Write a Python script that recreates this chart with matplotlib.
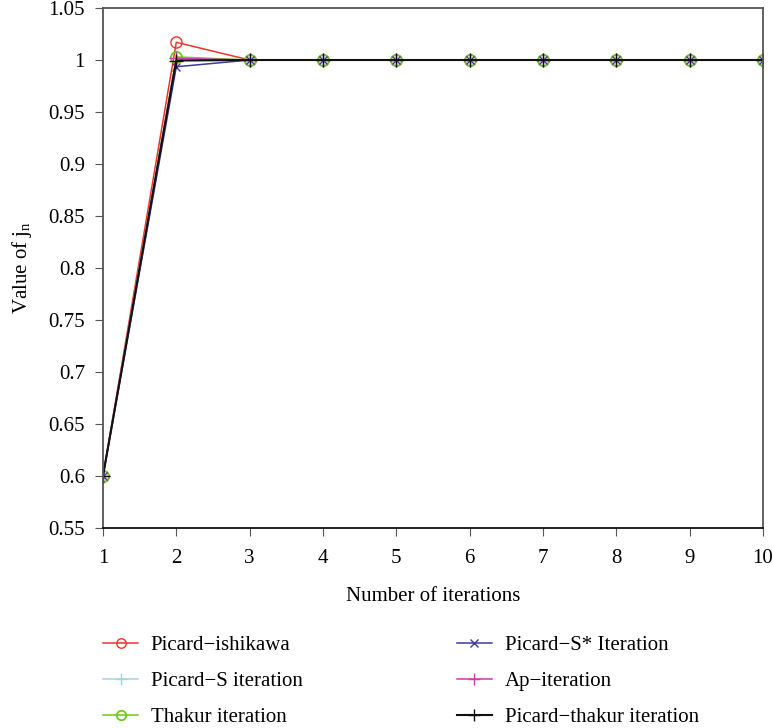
import numpy as np
import matplotlib
matplotlib.use("Agg")
import matplotlib.pyplot as plt

plt.rcParams['font.family'] = ['Liberation Serif', 'DejaVu Serif']
plt.rcParams['mathtext.fontset'] = 'custom'
plt.rcParams['mathtext.rm'] = 'Liberation Serif'

# iterations
n = [1, 2, 3, 4, 5, 6, 7, 8, 9, 10]

# values of j_n for each scheme
picard_ishikawa = [0.6, 1.017, 1.0, 1.0, 1.0, 1.0, 1.0, 1.0, 1.0, 1.0]
picard_s = [0.6, 1.002, 1.0, 1.0, 1.0, 1.0, 1.0, 1.0, 1.0, 1.0]
thakur = [0.6, 1.003, 1.0, 1.0, 1.0, 1.0, 1.0, 1.0, 1.0, 1.0]
picard_s_star = [0.6, 0.9935, 1.0, 1.0, 1.0, 1.0, 1.0, 1.0, 1.0, 1.0]
ap_iter = [0.6, 1.0015, 1.0, 1.0, 1.0, 1.0, 1.0, 1.0, 1.0, 1.0]
picard_thakur = [0.6, 0.9995, 1.0, 1.0, 1.0, 1.0, 1.0, 1.0, 1.0, 1.0]

fig = plt.figure(figsize=(7.73, 7.28), dpi=100)
ax = fig.add_axes([0.1332, 0.2747, 0.8538, 0.7143])

ax.plot(n, picard_ishikawa, color='#e8362d', marker='o', mfc='none', ms=8, lw=1.1, label='Picard\u2212ishikawa')
ax.plot(n, picard_s, color='#9ad8e0', marker='+', ms=10, lw=1.1, label='Picard\u2212S iteration')
ax.plot(n, thakur, color='#6cc81e', marker='o', mfc='none', ms=8, mew=1.3, lw=1.1, label='Thakur iteration')
ax.plot(n, picard_s_star, color='#3c3c9a', marker='x', ms=6, lw=1.1, label='Picard\u2212S* Iteration')
ax.plot(n, ap_iter, color='#cc3cb4', marker='+', ms=10, lw=1.1, label='Ap\u2212iteration')
ax.plot(n, picard_thakur, color='#111111', marker='+', ms=10, lw=1.5, label='Picard\u2212thakur iteration')

ax.set_xlim(1, 10)
ax.set_ylim(0.55, 1.05)
ax.set_xticks(n)
ax.set_yticks(np.arange(0.55, 1.051, 0.05))
ax.set_yticklabels(['0.55', '0.6', '0.65', '0.7', '0.75', '0.8', '0.85', '0.9', '0.95', '1', '1.05'])
ax.tick_params(labelsize=15, direction='out', length=6, color='#555555')
ax.tick_params(axis='x', pad=9)
ax.tick_params(axis='y', pad=7)
for s in ax.spines.values():
    s.set_color('#555555')
    s.set_linewidth(1.3)
ax.spines['bottom'].set_color('#111111')

ax.set_xlabel('Number of iterations', fontsize=15, labelpad=14)
ax.set_ylabel('Value of j$_\\mathrm{n}$', fontsize=15, labelpad=10)

handles, labels = ax.get_legend_handles_labels()
fig.legend(handles, labels, ncol=2, frameon=False, fontsize=15,
           loc='upper left', bbox_to_anchor=(0.133, 0.127),
           borderpad=0, borderaxespad=0, markerscale=0.85,
           columnspacing=7.4, handlelength=1.7, handletextpad=0.6, labelspacing=0.78)

fig.savefig('out.png', dpi=100)
